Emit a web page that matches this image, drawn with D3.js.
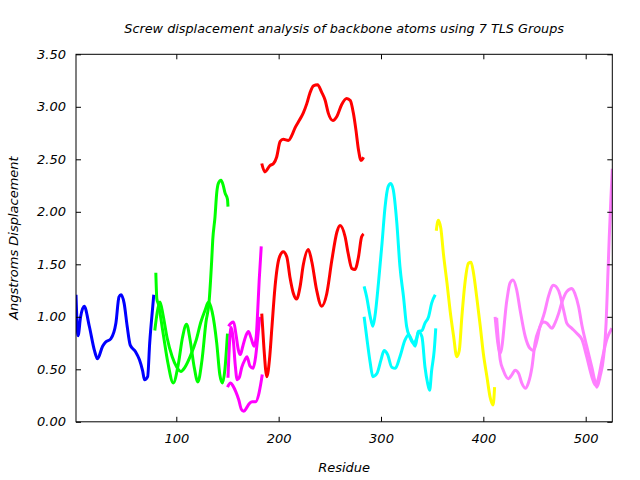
<!DOCTYPE html>
<html>
<head>
<meta charset="utf-8">
<script src="https://cdn.jsdelivr.net/npm/d3@7"></script>
<style>
  html, body { margin: 0; padding: 0; background: #fff; }
  svg text { font-family: "DejaVu Sans", sans-serif; font-style: italic; fill: #000; }
</style>
</head>
<body>
<svg id="chart" width="640" height="480"></svg>
<script>
// ---------- data ----------
const title = "Screw displacement analysis of backbone atoms using 7 TLS Groups";
const xLabel = "Residue";
const yLabel = "Angstroms Displacement";
const xDomain = [2, 526];
const yDomain = [0, 3.5];
const xTicks = [100, 200, 300, 400, 500];
const yTicks = [0, 0.5, 1.0, 1.5, 2.0, 2.5, 3.0, 3.5];

// TLS group 1 (blue)
const blueRes  = [2,4,6.5,10,15,20,23,28,31,36,41,44,46,49,52,55,60,64,67,69,72,74,77,78];
const blueVal  = [1.21,0.82,1.00,1.10,0.91,0.68,0.60,0.72,0.76,0.79,0.94,1.19,1.21,1.13,0.91,0.73,0.67,0.59,0.49,0.40,0.43,0.75,1.10,1.21];

// TLS group 2 (green)
const green1Res = [80,81,82.5,87,92,97,102,106,110,113.5,117.5,121,125,129,132,134.6,135.6,137.8,139.5,141.1,143.7,145.9,147.6,150,150.5];
const green1Val = [1.42,1.17,1.12,0.85,0.55,0.37,0.55,0.80,0.93,0.78,0.52,0.38,0.58,0.95,1.14,1.54,1.73,1.95,2.18,2.27,2.30,2.25,2.18,2.12,2.05];
const green2Res = [79,81.5,84,87,91,96,100.5,104.5,108.5,113.5,119.5,124,128,131.5,135,139.5,142.5,145,147.5,150];
const green2Val = [0.87,1.05,1.14,1.02,0.80,0.62,0.52,0.48,0.52,0.62,0.78,0.95,1.06,1.14,1.05,0.75,0.45,0.37,0.50,0.84];

// TLS group 3 (magenta)
const mag1Res = [151,153.5,156,158.5,160.5,162.5,165,168,170.5,173,176,178,179.5,181,183];
const mag1Val = [0.91,0.94,0.95,0.82,0.69,0.64,0.72,0.82,0.86,0.80,0.72,0.80,1.05,1.35,1.67];
const mag2Res = [150.5,152,153.5,155.5,157.5,159.5,161.5,164,167,169,172,175,177.5,179.5,181.5];
const mag2Val = [0.42,0.75,0.90,0.80,0.55,0.40,0.42,0.52,0.59,0.62,0.53,0.51,0.62,0.80,1.00];
const mag3Res = [150,153,155.5,158,161,163.5,166,168.5,171,174,177.5,180.5,182.5,184];
const mag3Val = [0.33,0.37,0.34,0.29,0.21,0.12,0.10,0.13,0.17,0.19,0.19,0.26,0.36,0.45];

// TLS group 4 (red)
const red1Res = [183.5,186.5,191.5,195,198,201.5,204.5,209.5,213,216,219.5,224,227.5,230.5,234,238,242,245.5,248.5,253,257,261.5,266.5,270,273,275.5,278,280.5,283];
const red1Val = [2.46,2.38,2.44,2.46,2.52,2.67,2.69,2.68,2.73,2.80,2.86,2.94,3.03,3.13,3.20,3.21,3.14,3.06,2.94,2.87,2.91,3.02,3.08,3.06,2.94,2.78,2.59,2.49,2.52];
const red2Res = [183.5,185.5,188.5,191,193.5,196.5,200.5,204.5,208,211,214.5,217.5,221,224,229,232.5,237,242,247,252,257,260,265,268,271.5,274.5,278,281,283];
const red2Val = [1.03,0.72,0.43,0.59,0.91,1.29,1.56,1.62,1.57,1.38,1.22,1.17,1.29,1.49,1.64,1.52,1.26,1.10,1.22,1.54,1.81,1.87,1.76,1.60,1.46,1.45,1.57,1.76,1.79];

// TLS group 5 (cyan)
const cyan1Res = [283.5,286,289.5,292,294,297.5,301,304,307,309.5,312,315.5,318.5,322,325,328.5,331.5,335,336.5,340,343,346.5,349.5,353];
const cyan1Val = [1.29,1.19,1.00,0.91,1.00,1.32,1.70,2.05,2.24,2.27,2.21,1.89,1.48,1.19,0.91,0.80,0.75,0.80,0.86,0.87,0.94,1.00,1.13,1.21];
const cyan2Res = [283.5,286,289.5,292,296,300,303,306.5,310.5,314,318.5,323.5,327,330,333.5,336.5,340,343,345.5,347.5,349.5,352,353.5];
const cyan2Val = [1.00,0.81,0.56,0.43,0.46,0.59,0.68,0.64,0.52,0.51,0.62,0.78,0.83,0.78,0.72,0.86,0.81,0.52,0.37,0.30,0.49,0.68,0.89];

// TLS group 6 (yellow)
const yellowRes = [354,356,358.5,361,364.5,367.5,371,374,376.5,379,382,385.5,388,390.5,393.5,397,400,403.5,406.5,409.5,411];
const yellowVal = [1.82,1.92,1.84,1.60,1.32,1.06,0.81,0.62,0.68,1.00,1.32,1.51,1.52,1.41,1.19,0.91,0.65,0.43,0.24,0.16,0.33];

// TLS group 7 (violet)
const violet1Res = [411.5,416.5,423,426,429,432.5,436,441,445.5,449,452.5,455.5,459,462,467,470,473.5,476.5,481.5,486.5,489.5,493,496.5,501,506,509.5,511,514,517.5,520,521.5,523,524.5,526];
const violet1Val = [1.00,0.65,1.16,1.32,1.35,1.26,1.06,0.81,0.70,0.68,0.78,0.91,0.95,0.94,0.89,0.94,1.03,1.13,1.24,1.27,1.22,1.10,0.91,0.72,0.52,0.37,0.33,0.43,0.62,0.95,1.35,1.75,2.10,2.41];
const violet2Res = [413,416.5,419.5,424.5,428,431,434.5,437.5,441,444,447.5,450.5,455.5,460,463.5,468.5,473.5,478.5,481.5,486.5,491.5,496.5,501,506,509.5,512,516,520.5,525.5];
const violet2Val = [0.99,0.59,0.49,0.41,0.45,0.49,0.46,0.37,0.32,0.37,0.52,0.75,0.91,1.05,1.19,1.30,1.25,1.06,0.94,0.89,0.84,0.78,0.62,0.43,0.35,0.40,0.59,0.78,0.89];

const seriesList = [
  {res: blueRes, val: blueVal, color: "#0000ff"},
  {res: green1Res, val: green1Val, color: "#00ff00"},
  {res: green2Res, val: green2Val, color: "#00ff00"},
  {res: mag1Res, val: mag1Val, color: "#ff00ff"},
  {res: mag2Res, val: mag2Val, color: "#ff00ff"},
  {res: mag3Res, val: mag3Val, color: "#ff00ff"},
  {res: red1Res, val: red1Val, color: "#ff0000"},
  {res: red2Res, val: red2Val, color: "#ff0000"},
  {res: cyan1Res, val: cyan1Val, color: "#00ffff"},
  {res: cyan2Res, val: cyan2Val, color: "#00ffff"},
  {res: yellowRes, val: yellowVal, color: "#ffff00"},
  {res: violet1Res, val: violet1Val, color: "#ff80ff"},
  {res: violet2Res, val: violet2Val, color: "#ff80ff"}
];

// ---------- layout ----------
const L = 76, R = 612.3, T = 54.3, B = 421.8;
const svg = d3.select("#chart");
const x = d3.scaleLinear().domain(xDomain).range([L, R]);
const y = d3.scaleLinear().domain(yDomain).range([B, T]);

svg.append("defs").append("clipPath").attr("id", "clip")
  .append("rect").attr("x", L).attr("y", T).attr("width", R - L).attr("height", B - T);

// lines
const line = d3.line().x(d => x(d[0])).y(d => y(d[1])).curve(d3.curveMonotoneX);
const g = svg.append("g").attr("clip-path", "url(#clip)");
seriesList.forEach(s => {
  const pts = s.res.map((r, i) => [r, s.val[i]]);
  g.append("path").datum(pts)
    .attr("d", line)
    .attr("fill", "none")
    .attr("stroke", s.color)
    .attr("stroke-width", 3)
    .attr("stroke-linejoin", "round");
});

// axes (inward ticks, mirrored)
const fs = 13;
const axL = svg.append("g").attr("transform", `translate(${L},0)`)
  .call(d3.axisLeft(y).tickValues(yTicks).tickFormat(d3.format(".2f")).tickSize(-5).tickPadding(10));
const axR = svg.append("g").attr("transform", `translate(${R},0)`)
  .call(d3.axisRight(y).tickValues(yTicks).tickFormat("").tickSize(-5));
const axB = svg.append("g").attr("transform", `translate(0,${B})`)
  .call(d3.axisBottom(x).tickValues(xTicks).tickFormat(d3.format("d")).tickSize(-5).tickPadding(12));
const axT = svg.append("g").attr("transform", `translate(0,${T})`)
  .call(d3.axisTop(x).tickValues(xTicks).tickFormat("").tickSize(-5));
[axL, axR, axB, axT].forEach(a => {
  a.select(".domain").remove();
  a.selectAll("line").attr("stroke", "#000");
  a.selectAll("text").style("font-family", "DejaVu Sans").style("font-style", "italic").style("font-size", fs + "px").attr("fill", "#000");
});

svg.append("rect").attr("x", L).attr("y", T).attr("width", R - L).attr("height", B - T)
  .attr("fill", "none").attr("stroke", "#000").attr("stroke-width", 1);

// labels
svg.append("text").attr("x", (L + R) / 2).attr("y", 33).attr("text-anchor", "middle")
  .style("font-size", "12.8px").text(title);
svg.append("text").attr("x", (L + R) / 2).attr("y", 472).attr("text-anchor", "middle")
  .style("font-size", fs + "px").text(xLabel);
svg.append("text").attr("transform", `translate(18,${(T + B) / 2}) rotate(-90)`).attr("text-anchor", "middle")
  .style("font-size", fs + "px").text(yLabel);
</script>
</body>
</html>
